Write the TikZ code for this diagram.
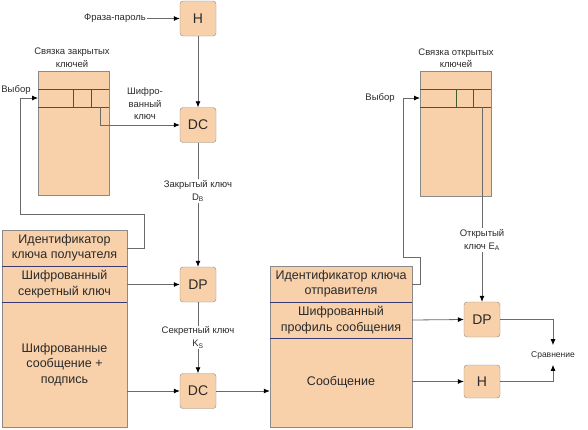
\documentclass[tikz,border=0pt]{standalone}
\usepackage{fontspec}
\setmainfont{Liberation Sans}
\usetikzlibrary{arrows.meta}
\definecolor{peach}{HTML}{F8D0AA}
\definecolor{edgecol}{HTML}{8A8A8A}
\definecolor{wirecol}{HTML}{6A6A6A}
\definecolor{divcol}{HTML}{3A3A70}
\definecolor{cellcol}{HTML}{3E5E2E}
\definecolor{ink}{HTML}{2A2A2A}

\begin{document}
\begin{tikzpicture}[x=1pt,y=-1pt,
  blk/.style={draw=edgecol,fill=peach,rounded corners=3pt,minimum width=36pt,minimum height=35pt,inner sep=0pt,font=\fontsize{14}{16}\selectfont,text=ink},
  field/.style={draw=edgecol,fill=peach,inner sep=0pt,align=center,font=\fontsize{12.5}{15.5}\selectfont,text=ink},
  ring/.style={draw=edgecol,fill=peach,minimum width=71pt,inner sep=0pt},
  lbl/.style={font=\fontsize{9.5}{12.5}\selectfont,text=ink,align=center,inner sep=1pt},
  wire/.style={draw=wirecol,line width=0.8pt},
  arr/.style={wire,-{Latex[length=6pt,width=5pt,color=black]}}]
\useasboundingbox (0,0) rectangle (588,429);

% receiver side
\node[blk] (h1) at (198,18.5) {H};
\node[lbl] (phrase) at (115,18.5) {Фраза-пароль};
\node[blk] (dc1) at (198,125) {DC};
\node[blk] (dp1) at (198,284.5) {DP};
\node[blk] (dc2) at (198,391) {DC};

\node[ring,minimum height=124pt] (ring1) at (73.5,133) {};
\draw[cellcol] (38,89) -- (109,89) (38,107) -- (109,107);
\draw[cellcol] (73,89) -- (73,107) (91,89) -- (91,107);
\coordinate (sel1) at (38,98);
\coordinate (key1) at (100,107);
\node[lbl] (title1) at (72,57.5) {Связка закрытых\\ключей};
\node[lbl] (choose1) at (16,90) {Выбор};

\node[field,minimum width=125pt,minimum height=36pt] (id1) at (64.5,248) {Идентификатор\\ключа получателя};
\node[field,minimum width=125pt,minimum height=36pt] (sk1) at (64.5,284) {Шифрованный\\секретный ключ};
\node[field,minimum width=125pt,minimum height=125pt] (msg1) at (64.5,364.5) {Шифрованные\\сообщение +\\подпись};
\draw[divcol] (id1.south west) -- (id1.south east) (sk1.south west) -- (sk1.south east);

% sender side
\node[ring,minimum height=125pt] (ring2) at (455.5,133.5) {};
\draw[cellcol] (420,89) -- (491,89) (420,107) -- (491,107);
\draw[cellcol] (456,89) -- (456,107) (473,89) -- (473,107);
\coordinate (sel2) at (420,98);
\coordinate (key2) at (482,107);
\node[lbl] (title2) at (456,58) {Связка открытых\\ключей};
\node[lbl] (choose2) at (380,98) {Выбор};

\node[field,minimum width=142pt,minimum height=36pt] (id2) at (341,284) {Идентификатор ключа\\отправителя};
\node[field,minimum width=142pt,minimum height=36pt] (prof2) at (341,320) {Шифрованный\\профиль сообщения};
\node[field,minimum width=142pt,minimum height=89pt] (msg2) at (341,382.5) {Сообщение};
\draw[divcol] (id2.south west) -- (id2.south east) (prof2.south west) -- (prof2.south east);

\node[blk] (dp2) at (482,319.5) {DP};
\node[blk,minimum height=33pt] (h2) at (482,381.5) {H};
\node[lbl,font=\fontsize{8.5}{10}\selectfont,outer sep=5pt] (cmp) at (553,355) {Сравнение};

% connectors
\draw[arr] (phrase.east) -- (h1.west);
\draw[arr] (h1.south) -- (dc1.north);
\draw[arr] (key1) |- (dc1.west);
\node[lbl] (enckey) at (145,104) {Шифро-\\ванный\\ключ};
\draw[arr] (id1.east) -| (144,214) -| (20,98) -- (sel1);
\draw[arr] (dc1.south) -- (dp1.north);
\node[lbl,fill=white] (privkey) at (198,191) {Закрытый ключ\\D\textsubscript{B}};
\draw[arr] (sk1.east |- dp1.west) -- (dp1.west);
\draw[arr] (dp1.south) -- (dc2.north);
\node[lbl,fill=white] (seckey) at (198,337.5) {Секретный ключ\\K\textsubscript{S}};
\draw[arr] (msg1.east |- dc2.west) -- (dc2.west);
\draw[arr] (dc2.east) -- (dc2.east -| msg2.west);

\draw[arr] (id2.east) -| (420,257) -| (403,98) -- (sel2);
\draw[arr] (key2) -- (dp2.north);
\node[lbl,fill=white] (pubkey) at (482,240) {Открытый\\ключ E\textsubscript{A}};
\draw[arr] (prof2.east) -- (dp2.west);
\draw[arr] (msg2.east |- h2.west) -- (h2.west);
\draw[arr] (dp2.east) -| (cmp.north);
\draw[arr] (h2.east) -| (cmp.south);
\end{tikzpicture}
\end{document}
